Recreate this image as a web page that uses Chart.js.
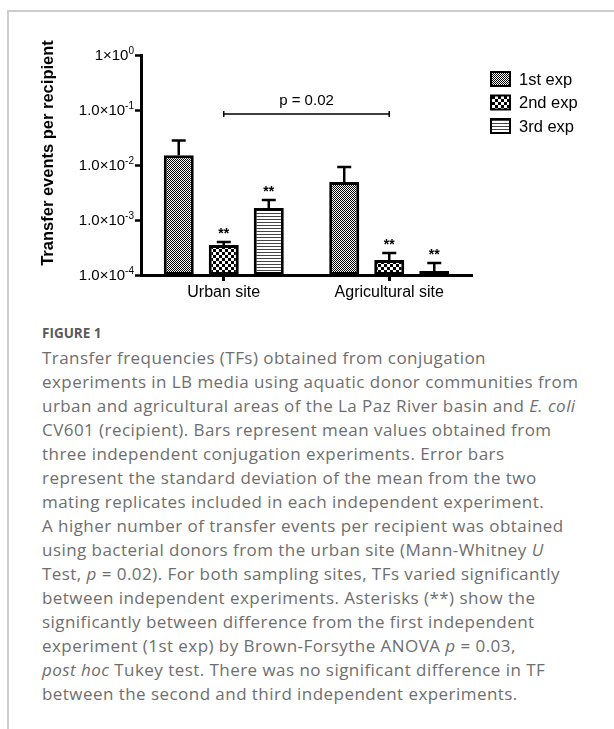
<!DOCTYPE html>
<html><head><meta charset="utf-8">
<script src="https://cdn.jsdelivr.net/npm/chart.js@4.4.1/dist/chart.umd.min.js"></script>
<style>
html,body{margin:0;padding:0;background:#fff;width:614px;height:729px;overflow:hidden;}
#frame{position:absolute;left:7px;top:10px;right:-2px;bottom:-2px;border-left:2px solid #cdcdcd;border-top:2px solid #cdcdcd;}
#wrap{position:absolute;left:0;top:0;width:614px;height:315px;}
#cap{position:absolute;left:42px;top:320px;font-family:'Open Sans',sans-serif;color:#6e6e6e;white-space:nowrap;}
#fig{font-size:13.5px;font-weight:700;color:#5a5a5a;line-height:26px;}
#txt{font-size:17px;line-height:24px;letter-spacing:0.45px;}
</style></head>
<body>
<div id="frame"></div>
<div id="wrap"><canvas id="c" width="614" height="315"></canvas></div>
<div id="cap">
<div id="fig">FIGURE 1</div>
<div id="txt">Transfer frequencies (TFs) obtained from conjugation<br>experiments in LB media using aquatic donor communities from<br>urban and agricultural areas of the La Paz River basin and <i>E. coli</i><br>CV601 (recipient). Bars represent mean values obtained from<br>three independent conjugation experiments. Error bars<br>represent the standard deviation of the mean from the two<br>mating replicates included in each independent experiment.<br>A higher number of transfer events per recipient was obtained<br>using bacterial donors from the urban site (Mann-Whitney <i>U</i><br>Test, <i>p</i> = 0.02). For both sampling sites, TFs varied significantly<br>between independent experiments. Asterisks (**) show the<br>significantly between difference from the first independent<br>experiment (1st exp) by Brown-Forsythe ANOVA <i>p</i> = 0.03,<br><i>post hoc</i> Tukey test. There was no significant difference in TF<br>between the second and third independent experiments.</div>
</div>
<script>
const categories = ['Urban site', 'Agricultural site'];
const seriesLabels = ['1st exp', '2nd exp', '3rd exp'];
const exp1 = [0.015, 0.0049];
const exp2 = [0.00035, 0.000187];
const exp3 = [0.00166, 0.000118];
const exp1ErrTop = [0.028, 0.0092];
const exp2ErrTop = [0.00040, 0.00025];
const exp3ErrTop = [0.0023, 0.000165];
const exp1Stars = ['', ''];
const exp2Stars = ['**', '**'];
const exp3Stars = ['**', '**'];
const yTickValues = [1e-4, 1e-3, 1e-2, 1e-1, 1];
const yTickBase = ['1.0×10', '1.0×10', '1.0×10', '1.0×10', '1×10'];
const yTickExp = ['-4', '-3', '-2', '-1', '0'];
const yTitle = 'Transfer events per recipient';
const pBracketFrom = 0, pBracketTo = 1, pBracketValue = 0.085, pBracketLabel = 'p = 0.02';

const FONT = "'Liberation Sans', Arial, sans-serif";

function makePattern(kind) {
  const t = document.createElement('canvas');
  const g = t.getContext('2d');
  if (kind === 0) {
    t.width = 2; t.height = 2;
    g.fillStyle = '#fff'; g.fillRect(0, 0, 2, 2);
    g.fillStyle = '#000'; g.fillRect(0, 0, 1, 1); g.fillRect(1, 1, 1, 1);
  } else if (kind === 1) {
    t.width = 6; t.height = 6;
    g.fillStyle = '#fff'; g.fillRect(0, 0, 6, 6);
    g.fillStyle = '#000'; g.fillRect(0, 0, 3, 3); g.fillRect(3, 3, 3, 3);
  } else {
    t.width = 3; t.height = 3;
    g.fillStyle = '#fff'; g.fillRect(0, 0, 3, 3);
    g.fillStyle = '#444'; g.fillRect(0, 0, 3, 1);
  }
  return g.createPattern(t, 'repeat');
}

const overlay = {
  id: 'overlay',
  afterDraw(chart) {
    const { ctx, scales: { x, y } } = chart;
    ctx.save();
    ctx.strokeStyle = '#000';
    ctx.fillStyle = '#000';
    // y tick labels with superscript exponents, placed by the y scale
    const right = y.right - 7;
    y.ticks.forEach((t, i) => {
      const py = y.getPixelForValue(t.value);
      ctx.font = '15px ' + FONT;
      const bw = ctx.measureText(yTickBase[i]).width;
      ctx.font = '10px ' + FONT;
      const ew = ctx.measureText(yTickExp[i]).width;
      ctx.textAlign = 'left';
      ctx.textBaseline = 'middle';
      ctx.font = '15px ' + FONT;
      ctx.fillText(yTickBase[i], right - bw - ew, py + 1);
      ctx.font = '10px ' + FONT;
      ctx.fillText(yTickExp[i], right - ew, py - 4);
    });
    // y axis title (rotated), slightly above the axis centre as in the original
    ctx.save();
    ctx.translate(48, (y.top + y.bottom) / 2 - 12);
    ctx.rotate(-Math.PI / 2);
    ctx.font = 'bold 16.5px ' + FONT;
    ctx.textAlign = 'center';
    ctx.textBaseline = 'middle';
    ctx.fillText(yTitle, 0, 0);
    ctx.restore();
    ctx.restore();
  },
  afterDatasetsDraw(chart) {
    const { ctx, scales: { x, y } } = chart;
    ctx.save();
    ctx.strokeStyle = '#000';
    ctx.fillStyle = '#000';
    chart.data.datasets.forEach((ds, di) => {
      const meta = chart.getDatasetMeta(di);
      meta.data.forEach((bar, i) => {
        const top = y.getPixelForValue(ds.errTop[i]);
        ctx.lineWidth = 2.5;
        ctx.beginPath();
        ctx.moveTo(bar.x, bar.y);
        ctx.lineTo(bar.x, top);
        ctx.moveTo(bar.x - 7, top);
        ctx.lineTo(bar.x + 7, top);
        ctx.stroke();
        if (ds.stars[i]) {
          ctx.font = 'bold 14px ' + FONT;
          ctx.textAlign = 'center';
          ctx.textBaseline = 'middle';
          ctx.fillText(ds.stars[i], bar.x, top - 8);
        }
      });
    });
    // significance bracket
    const x1 = x.getPixelForValue(pBracketFrom), x2 = x.getPixelForValue(pBracketTo);
    const yb = y.getPixelForValue(pBracketValue);
    ctx.lineWidth = 1.5;
    ctx.beginPath();
    ctx.moveTo(x1, yb); ctx.lineTo(x2, yb);
    ctx.moveTo(x1, yb - 3); ctx.lineTo(x1, yb + 3);
    ctx.moveTo(x2, yb - 3); ctx.lineTo(x2, yb + 3);
    ctx.stroke();
    ctx.font = '15px ' + FONT;
    ctx.textAlign = 'center';
    ctx.textBaseline = 'middle';
    ctx.fillText(pBracketLabel, (x1 + x2) / 2, yb - 13);
    // legend
    const lx = chart.chartArea.right + 19, ly0 = 79, step = 23.5;
    chart.data.datasets.forEach((ds, di) => {
      const cy = ly0 + di * step;
      ctx.fillStyle = ds.backgroundColor;
      ctx.fillRect(lx, cy - 7, 19, 14);
      ctx.lineWidth = 2;
      ctx.strokeStyle = '#000';
      ctx.strokeRect(lx, cy - 7, 19, 14);
      ctx.fillStyle = '#000';
      ctx.font = '16.5px ' + FONT;
      ctx.textAlign = 'left';
      ctx.textBaseline = 'middle';
      ctx.fillText(ds.label, lx + 28, cy + 1);
    });
    ctx.restore();
  }
};

const values = [exp1, exp2, exp3];
const errs = [exp1ErrTop, exp2ErrTop, exp3ErrTop];
const stars = [exp1Stars, exp2Stars, exp3Stars];

new Chart(document.getElementById('c'), {
  type: 'bar',
  data: {
    labels: categories,
    datasets: seriesLabels.map((lab, k) => ({
      label: lab,
      data: values[k],
      errTop: errs[k],
      stars: stars[k],
      backgroundColor: makePattern(k),
      borderColor: '#000',
      borderWidth: 3,
      borderSkipped: false,
      categoryPercentage: 0.816,
      barPercentage: 0.667
    }))
  },
  options: {
    responsive: false,
    animation: false,
    devicePixelRatio: 1,
    layout: { padding: { left: 39, top: 55, right: 142, bottom: 0 } },
    plugins: { legend: { display: false }, tooltip: { enabled: false } },
    scales: {
      x: {
        afterFit(s) { s.height = 40; s.paddingLeft = 0; s.paddingRight = 0; },
        grid: { offset: false, drawOnChartArea: false, drawTicks: true, tickLength: 6, tickWidth: 3, tickColor: '#000' },
        border: { display: true, color: '#000', width: 3 },
        ticks: { color: '#000', font: { family: FONT, size: 16 }, padding: 2, maxRotation: 0 }
      },
      y: {
        type: 'logarithmic',
        min: 1e-4,
        max: 1,
        afterBuildTicks(s) { s.ticks = yTickValues.map(v => ({ value: v })); },
        afterFit(s) { s.width = 102; s.paddingTop = 0; s.paddingBottom = 0; },
        grid: { drawOnChartArea: false, drawTicks: true, tickLength: 6, tickWidth: 2.5, tickColor: '#000' },
        border: { display: true, color: '#000', width: 3 },
        ticks: { display: false },
        title: { display: false, text: yTitle }
      }
    }
  },
  plugins: [overlay]
});
</script>
</body></html>
